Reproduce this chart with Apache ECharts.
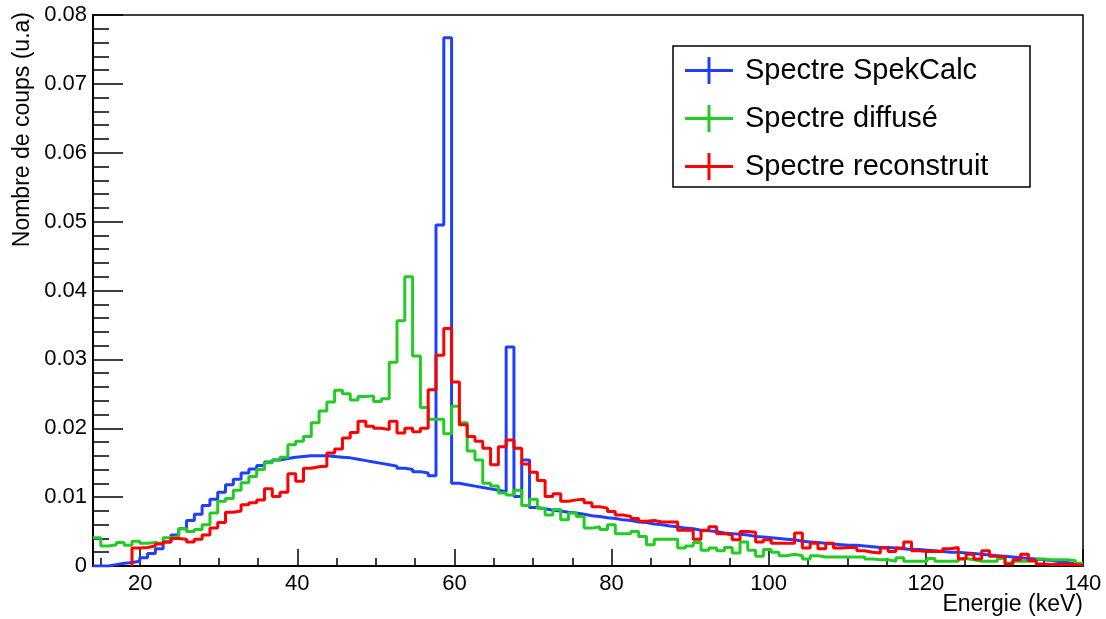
<!DOCTYPE html>
<html>
<head>
<meta charset="utf-8">
<script src="https://cdn.jsdelivr.net/npm/echarts@6/dist/echarts.min.js"></script>
<style>
  html, body { margin: 0; padding: 0; background: #fff; }
  #chart { width: 1106px; height: 619px; }
</style>
</head>
<body>
<div id="chart"></div>
<script>
// ---- histogram binning (127 bins spanning the axis range) ----
const X_MIN = 14;
const X_MAX = 140;
const N_BINS = 127;
const Y_MIN = 0;
const Y_MAX = 0.08;
const Y_STEP = 0.01;

// ---- tick labels ----
const X_LABELS = [20, 40, 60, 80, 100, 120, 140];
const X_MINOR_TICKS = [15, 20, 25, 30, 35, 40, 45, 50, 55, 60, 65, 70, 75, 80, 85, 90, 95, 100, 105, 110, 115, 120, 125, 130, 135, 140];

// ---- series names ----
const SERIES_NAMES = ['Spectre SpekCalc', 'Spectre diffusé', 'Spectre reconstruit'];

// ---- bin contents (bin 0 .. 126) ----
const spekcalc = [
  0, 0, 0.0002, 0.0004, 0.0005, 0.0007, 0.0012, 0.0018, 0.0025, 0.0035,
  0.0045, 0.0054, 0.0066, 0.0075, 0.0088, 0.0097, 0.0107, 0.0118, 0.0126, 0.0135,
  0.0141, 0.0146, 0.0151, 0.0154, 0.0156, 0.0158, 0.0159, 0.016, 0.016, 0.016,
  0.0159, 0.0158, 0.0157, 0.0155, 0.0153, 0.0151, 0.0149, 0.0147, 0.0145, 0.0142,
  0.014, 0.0137, 0.0135, 0.0131, 0.0495, 0.0767, 0.012, 0.0118, 0.0116, 0.0114,
  0.0112, 0.011, 0.0108, 0.0318, 0.0101, 0.0154, 0.0085, 0.0083, 0.0081, 0.008,
  0.0078, 0.0077, 0.0075, 0.0073, 0.0072, 0.007, 0.0069, 0.0067, 0.0066, 0.0064,
  0.0063, 0.0061, 0.006, 0.0058, 0.0057, 0.0055, 0.0054, 0.0052, 0.0051, 0.005,
  0.0048, 0.0047, 0.0046, 0.0045, 0.0043, 0.0042, 0.0041, 0.004, 0.0039, 0.0038,
  0.0036, 0.0035, 0.0034, 0.0033, 0.0032, 0.0031, 0.003, 0.003, 0.0029, 0.0028,
  0.0027, 0.0027, 0.0026, 0.0025, 0.0024, 0.0024, 0.0023, 0.0022, 0.0021, 0.002,
  0.002, 0.0019, 0.0018, 0.0017, 0.0016, 0.0015, 0.0014, 0.0013, 0.0012, 0.0011,
  0.001, 0.0009, 0.0008, 0.0006, 0.0005, 0.0003, 0.0002
];

const diffuse = [
  0.0041, 0.0029, 0.0031, 0.0034, 0.003, 0.0036, 0.0033, 0.0034, 0.0032, 0.0041,
  0.0043, 0.0054, 0.005, 0.0053, 0.006, 0.0077, 0.0094, 0.0098, 0.011, 0.0121,
  0.013, 0.014, 0.015, 0.0154, 0.0158, 0.0176, 0.0181, 0.0188, 0.0208, 0.0225,
  0.0238, 0.0255, 0.025, 0.0241, 0.0246, 0.0247, 0.0239, 0.0243, 0.0296, 0.0356,
  0.042, 0.0305, 0.023, 0.0213, 0.0213, 0.0192, 0.0232, 0.0208, 0.0167, 0.0154,
  0.012, 0.0116, 0.0106, 0.0103, 0.011, 0.0088, 0.0097, 0.0084, 0.0074, 0.0082,
  0.0067, 0.0077, 0.0072, 0.0055, 0.0057, 0.0053, 0.006, 0.0047, 0.0047, 0.005,
  0.0043, 0.0031, 0.0039, 0.0039, 0.0039, 0.0026, 0.0029, 0.0034, 0.0023, 0.0026,
  0.0022, 0.0027, 0.0019, 0.0035, 0.0023, 0.0014, 0.0024, 0.002, 0.0015, 0.0017,
  0.0015, 0.001, 0.0015, 0.0013, 0.0013, 0.0013, 0.0013, 0.0013, 0.0013, 0.001,
  0.0009, 0.0009, 0.0007, 0.0012, 0.0007, 0.0007, 0.0007, 0.0011, 0.0007, 0.0007,
  0.0007, 0.0011, 0.0009, 0.0007, 0.0007, 0.0007, 0.0011, 0.0004, 0.0007, 0.0007,
  0.0007, 0.001, 0.0009, 0.0009, 0.0009, 0.0008, 0.0004
];

const reconstruit = [
  null, null, null, null, null, 0.0026, 0.0027, 0.0029, 0.0032, 0.0035,
  0.004, 0.0039, 0.0035, 0.0039, 0.0045, 0.0055, 0.0063, 0.0078, 0.008, 0.0089,
  0.0092, 0.0096, 0.0112, 0.0101, 0.0107, 0.0134, 0.0123, 0.0142, 0.0144, 0.0145,
  0.0164, 0.017, 0.0186, 0.0194, 0.021, 0.0203, 0.02, 0.0198, 0.021, 0.0193,
  0.02, 0.0195, 0.02, 0.0256, 0.0306, 0.0345, 0.0267, 0.0205, 0.0188, 0.0181,
  0.0171, 0.0147, 0.0173, 0.0183, 0.0171, 0.0148, 0.0136, 0.0124, 0.0101, 0.0105,
  0.0094, 0.0096, 0.0097, 0.0092, 0.0086, 0.0084, 0.0079, 0.0074, 0.0072, 0.0069,
  0.0065, 0.0066, 0.0064, 0.0064, 0.0064, 0.0052, 0.0052, 0.0039, 0.0052, 0.0057,
  0.0047, 0.0045, 0.0038, 0.005, 0.0049, 0.0035, 0.0038, 0.0033, 0.0033, 0.0033,
  0.0048, 0.0026, 0.0033, 0.0025, 0.0033, 0.0026, 0.0027, 0.0027, 0.0022, 0.002,
  0.0019, 0.0026, 0.0021, 0.0026, 0.0035, 0.0022, 0.0021, 0.0021, 0.0021, 0.0025,
  0.0027, 0.001, 0.0017, 0.001, 0.0022, 0.0014, 0.0013, 0.0003, 0.0009, 0.0017,
  0.0008, 0.0003, 0.0002, 0.0002, 0.0002, 0.0002, 0.0001
];

// ---- build step-histogram outlines from bin contents ----
function histOutline(values) {
  const w = (X_MAX - X_MIN) / N_BINS;
  const pts = [];
  let started = false;
  for (let k = 0; k < values.length; k++) {
    const v = values[k];
    if (v === null || v === undefined) continue;
    const x0 = X_MIN + k * w;
    const x1 = X_MIN + (k + 1) * w;
    if (!started) {
      if (k > 0) pts.push([x0, 0]);
      started = true;
    }
    pts.push([x0, v]);
    pts.push([x1, v]);
  }
  return pts;
}

const FONT = 'Liberation Sans, Arial, Helvetica, sans-serif';
const COLORS = ['#1f3fff', '#22cc22', '#ff0000'];

const chart = echarts.init(document.getElementById('chart'), null, { renderer: 'canvas' });

const makeSeries = (name, values, color) => ({
  name: name,
  type: 'line',
  data: histOutline(values),
  showSymbol: false,
  symbol: 'none',
  lineStyle: { color: color, width: 3 },
  itemStyle: { color: color },
  emphasis: { disabled: true },
  clip: true,
  z: 3
});

chart.setOption({
  animation: false,
  backgroundColor: '#ffffff',
  grid: {
    left: 93, top: 15, width: 990, height: 551,
    show: true, borderColor: '#000', borderWidth: 1.5, backgroundColor: 'transparent'
  },
  xAxis: [
    {
      type: 'value', min: X_MIN, max: X_MAX,
      axisLine: { show: true, onZero: false, lineStyle: { color: '#000', width: 2 } },
      axisTick: { show: true, inside: true, length: 8, customValues: X_MINOR_TICKS, lineStyle: { color: '#000', width: 1.5 } },
      axisLabel: { customValues: X_LABELS, margin: 7, color: '#000', fontSize: 22, fontFamily: FONT },
      splitLine: { show: false }
    },
    {
      type: 'value', min: X_MIN, max: X_MAX, position: 'bottom', gridIndex: 0,
      axisLine: { show: false },
      axisTick: { show: true, inside: true, length: 17, customValues: X_LABELS, lineStyle: { color: '#000', width: 1.5 } },
      axisLabel: { show: false },
      splitLine: { show: false }
    }
  ],
  yAxis: {
    type: 'value', min: Y_MIN, max: Y_MAX, interval: Y_STEP,
    axisLine: { show: true, onZero: false, lineStyle: { color: '#000', width: 2 } },
    axisTick: { show: true, inside: true, length: 30, lineStyle: { color: '#000', width: 1.5 } },
    minorTick: { show: true, splitNumber: 5, length: 16, lineStyle: { color: '#000', width: 1.5 } },
    axisLabel: {
      margin: 6, color: '#000', fontSize: 22, fontFamily: FONT,
      formatter: v => (v === 0 ? '0' : v.toFixed(2))
    },
    splitLine: { show: false },
    minorSplitLine: { show: false }
  },
  legend: {
    orient: 'vertical',
    left: 685, top: 56,
    padding: 0,
    itemWidth: 48, itemHeight: 27, itemGap: 19,
    icon: 'path://M0,12H48V15H0Z M22.5,0H25.5V27H22.5Z',
    textStyle: { color: '#000', fontSize: 29, fontFamily: FONT, padding: [0, 0, 0, 7] },
    data: SERIES_NAMES,
    selectedMode: false,
    z: 10
  },
  graphic: [
    {
      type: 'rect', z: 5,
      shape: { x: 673, y: 46, width: 357, height: 141 },
      style: { fill: '#fff', stroke: '#000', lineWidth: 1.5 }
    },
    {
      type: 'text', z: 5,
      x: 23, y: 12, rotation: Math.PI / 2,
      style: {
        text: 'Nombre de coups (u.a)', fill: '#000',
        font: '23px ' + FONT, textAlign: 'right', textVerticalAlign: 'middle'
      }
    },
    {
      type: 'text', z: 5,
      x: 1083, y: 605,
      style: {
        text: 'Energie (keV)', fill: '#000',
        font: '23px ' + FONT, textAlign: 'right', textVerticalAlign: 'middle'
      }
    }
  ],
  series: [
    makeSeries(SERIES_NAMES[0], spekcalc, COLORS[0]),
    makeSeries(SERIES_NAMES[1], diffuse, COLORS[1]),
    makeSeries(SERIES_NAMES[2], reconstruit, COLORS[2])
  ]
});
</script>
</body>
</html>
